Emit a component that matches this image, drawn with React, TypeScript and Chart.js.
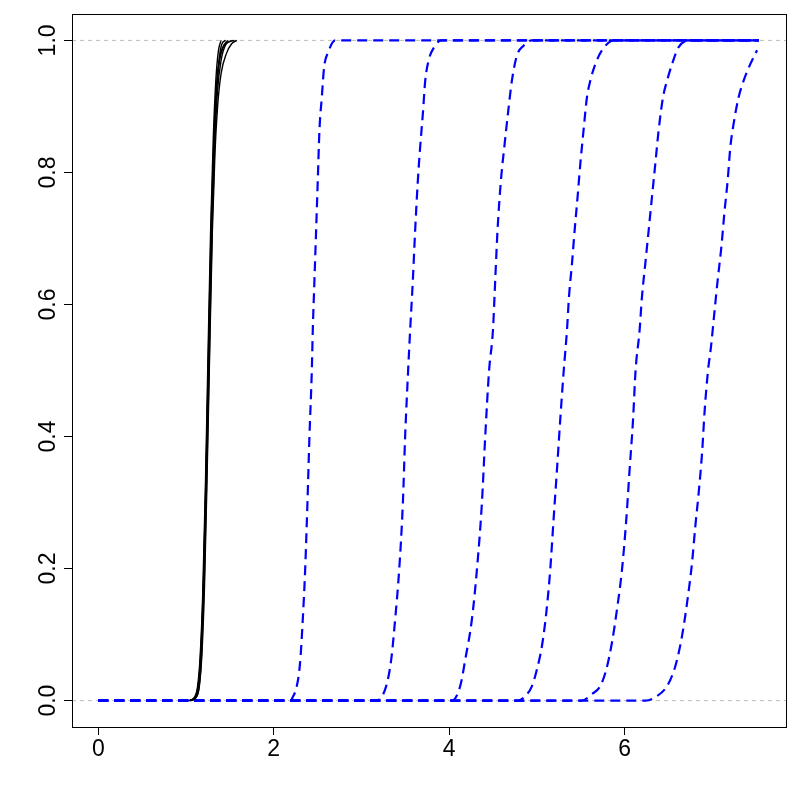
import React, { useEffect, useRef } from "react";
import { Chart, registerables } from "chart.js";

Chart.register(...registerables);

// Axis configuration
const X_MIN = -0.3;
const X_MAX = 7.84;
const Y_MIN = -0.04;
const Y_MAX = 1.04;
const X_TICKS = [0, 2, 4, 6];
const Y_TICKS = [0, 0.2, 0.4, 0.6, 0.8, 1.0];
const Y_TICK_LABELS = ["0.0", "0.2", "0.4", "0.6", "0.8", "1.0"];
const REF_LEVELS = [0, 1];

// Black solid curves (steep bundle near x≈1.25)
const BLACK_1_X = [1.04, 1.10, 1.14, 1.17, 1.20, 1.23, 1.26, 1.29, 1.32, 1.35, 1.38, 1.41, 1.45];
const BLACK_1_Y = [0, 0.004, 0.02, 0.07, 0.18, 0.35, 0.54, 0.72, 0.85, 0.93, 0.975, 0.995, 1];
const BLACK_2_X = [1.05, 1.11, 1.15, 1.18, 1.21, 1.24, 1.27, 1.30, 1.33, 1.36, 1.40, 1.45, 1.52];
const BLACK_2_Y = [0, 0.004, 0.022, 0.075, 0.19, 0.36, 0.55, 0.73, 0.85, 0.925, 0.97, 0.993, 1];
const BLACK_3_X = [1.03, 1.09, 1.13, 1.16, 1.19, 1.22, 1.25, 1.28, 1.31, 1.34, 1.37, 1.40];
const BLACK_3_Y = [0, 0.004, 0.02, 0.065, 0.16, 0.32, 0.52, 0.71, 0.85, 0.94, 0.985, 1];
const BLACK_4_X = [1.05, 1.11, 1.15, 1.18, 1.21, 1.24, 1.27, 1.30, 1.33, 1.36, 1.40, 1.46, 1.52, 1.58];
const BLACK_4_Y = [0, 0.004, 0.02, 0.068, 0.17, 0.34, 0.53, 0.71, 0.83, 0.90, 0.95, 0.98, 0.995, 1];
const BLACK_5_X = [1.04, 1.10, 1.14, 1.17, 1.20, 1.23, 1.26, 1.29, 1.32, 1.35, 1.39, 1.44, 1.55];
const BLACK_5_Y = [0, 0.005, 0.025, 0.08, 0.19, 0.36, 0.56, 0.74, 0.86, 0.935, 0.975, 0.993, 1];
const BLACK_6_X = [1.04, 1.10, 1.14, 1.17, 1.20, 1.23, 1.26, 1.29, 1.32, 1.35, 1.38, 1.42, 1.48];
const BLACK_6_Y = [0, 0.004, 0.021, 0.072, 0.175, 0.34, 0.53, 0.715, 0.845, 0.925, 0.97, 0.99, 1];

// Blue dashed curves
const BLUE_1_X = [0, 2.20, 2.206, 2.263, 2.30, 2.331, 2.358, 2.384, 2.407, 2.434, 2.445, 2.464, 2.483, 2.502, 2.521, 2.548, 2.574, 2.62, 2.70, 7.53];
const BLUE_1_Y = [0, 0, 0.002, 0.022, 0.057, 0.123, 0.198, 0.299, 0.40, 0.50, 0.561, 0.637, 0.712, 0.788, 0.864, 0.914, 0.959, 0.982, 1, 1];
const BLUE_2_X = [0, 3.17, 3.282, 3.339, 3.384, 3.43, 3.472, 3.498, 3.532, 3.555, 3.586, 3.612, 3.643, 3.669, 3.70, 3.727, 3.764, 3.83, 3.91, 7.53];
const BLUE_2_Y = [0, 0, 0.022, 0.062, 0.123, 0.198, 0.299, 0.40, 0.50, 0.561, 0.637, 0.712, 0.788, 0.838, 0.889, 0.939, 0.969, 0.99, 1, 1];
const BLUE_3_X = [0, 4.03, 4.126, 4.183, 4.259, 4.316, 4.373, 4.411, 4.455, 4.499, 4.525, 4.551, 4.59, 4.628, 4.67, 4.715, 4.772, 4.848, 4.94, 7.53];
const BLUE_3_Y = [0, 0, 0.022, 0.062, 0.123, 0.198, 0.299, 0.40, 0.50, 0.561, 0.637, 0.712, 0.788, 0.838, 0.889, 0.939, 0.977, 0.992, 1, 1];
const BLUE_4_X = [0, 4.79, 4.867, 4.944, 5.0, 5.058, 5.107, 5.152, 5.19, 5.229, 5.266, 5.306, 5.343, 5.366, 5.40, 5.43, 5.464, 5.495, 5.532, 5.571, 5.609, 5.666, 5.742, 5.88, 7.53];
const BLUE_4_Y = [0, 0, 0.007, 0.022, 0.047, 0.083, 0.133, 0.198, 0.274, 0.35, 0.425, 0.50, 0.561, 0.612, 0.662, 0.712, 0.763, 0.813, 0.864, 0.914, 0.939, 0.964, 0.985, 1, 1];
const BLUE_5_X = [0, 5.51, 5.628, 5.723, 5.791, 5.856, 5.913, 5.97, 6.019, 6.057, 6.096, 6.125, 6.171, 6.198, 6.236, 6.274, 6.312, 6.35, 6.388, 6.438, 6.484, 6.541, 6.616, 6.77, 7.53];
const BLUE_5_Y = [0, 0, 0.01, 0.022, 0.047, 0.088, 0.138, 0.198, 0.274, 0.35, 0.425, 0.50, 0.561, 0.612, 0.662, 0.712, 0.763, 0.813, 0.864, 0.914, 0.939, 0.964, 0.99, 1, 1];
const BLUE_6_X = [0, 6.24, 6.37, 6.484, 6.578, 6.655, 6.712, 6.769, 6.806, 6.844, 6.883, 6.913, 6.951, 6.985, 7.023, 7.061, 7.103, 7.137, 7.175, 7.205, 7.243, 7.30, 7.357, 7.433, 7.51];
const BLUE_6_Y = [0, 0, 0.007, 0.022, 0.052, 0.098, 0.148, 0.209, 0.264, 0.314, 0.375, 0.44, 0.50, 0.536, 0.587, 0.637, 0.687, 0.738, 0.788, 0.838, 0.874, 0.914, 0.939, 0.964, 0.985];

const BLACK_CURVES = [
  [BLACK_1_X, BLACK_1_Y],
  [BLACK_2_X, BLACK_2_Y],
  [BLACK_3_X, BLACK_3_Y],
  [BLACK_4_X, BLACK_4_Y],
  [BLACK_5_X, BLACK_5_Y],
  [BLACK_6_X, BLACK_6_Y],
];
const BLUE_CURVES = [
  [BLUE_1_X, BLUE_1_Y],
  [BLUE_2_X, BLUE_2_Y],
  [BLUE_3_X, BLUE_3_Y],
  [BLUE_4_X, BLUE_4_Y],
  [BLUE_5_X, BLUE_5_Y],
  [BLUE_6_X, BLUE_6_Y],
];

const FONT = "'Liberation Sans', Arial, sans-serif";

const zip = (xs: number[], ys: number[]) => xs.map((x, i) => ({ x, y: ys[i] }));

const frameAndLabels = {
  id: "frameAndLabels",
  afterDraw(chart: any) {
    const { ctx, chartArea } = chart;
    const ys = chart.scales.y;
    ctx.save();
    ctx.strokeStyle = "#000";
    ctx.lineWidth = 1;
    ctx.strokeRect(
      Math.round(chartArea.left) + 0.5,
      Math.round(chartArea.top) + 0.5,
      Math.round(chartArea.right - chartArea.left),
      Math.round(chartArea.bottom - chartArea.top)
    );
    ctx.fillStyle = "#000";
    ctx.font = `23px ${FONT}`;
    ctx.textAlign = "center";
    ctx.textBaseline = "alphabetic";
    Y_TICKS.forEach((v, i) => {
      const py = ys.getPixelForValue(v);
      ctx.save();
      ctx.translate(55, py);
      ctx.rotate(-Math.PI / 2);
      ctx.fillText(Y_TICK_LABELS[i], 0, 0);
      ctx.restore();
    });
    ctx.restore();
  },
};

export default function App() {
  const ref = useRef<HTMLCanvasElement | null>(null);
  useEffect(() => {
    if (!ref.current) return;
    const datasets: any[] = [];
    BLACK_CURVES.forEach(([xs, ys]) => {
      datasets.push({
        data: zip(xs, ys),
        borderColor: "#000000",
        borderWidth: 1.4,
        pointRadius: 0,
        showLine: true,
        fill: false,
        cubicInterpolationMode: "monotone",
      });
    });
    BLUE_CURVES.forEach(([xs, ys]) => {
      datasets.push({
        data: zip(xs, ys),
        borderColor: "#0000FF",
        borderWidth: 2.2,
        borderDash: [10, 6],
        pointRadius: 0,
        showLine: true,
        fill: false,
        cubicInterpolationMode: "monotone",
      });
    });
    REF_LEVELS.forEach((lv) => {
      datasets.push({
        data: [
          { x: X_MIN, y: lv },
          { x: X_MAX, y: lv },
        ],
        borderColor: "#BEBEBE",
        borderWidth: 1,
        borderDash: [4, 4],
        pointRadius: 0,
        showLine: true,
        fill: false,
      });
    });

    const chart = new Chart(ref.current, {
      type: "scatter",
      data: { datasets },
      options: {
        animation: false,
        responsive: false,
        devicePixelRatio: 1,
        layout: { padding: { top: 14, right: 14, left: 0, bottom: 0 } },
        plugins: { legend: { display: false }, tooltip: { enabled: false } },
        scales: {
          x: {
            type: "linear",
            min: X_MIN,
            max: X_MAX,
            afterBuildTicks: (s: any) => {
              s.ticks = X_TICKS.map((v) => ({ value: v }));
            },
            afterFit: (s: any) => {
              s.height = 73;
            },
            ticks: {
              color: "#000",
              font: { family: FONT, size: 23 },
              padding: 1,
              maxRotation: 0,
              autoSkip: false,
              callback: (v: any) => String(v),
            },
            grid: {
              display: true,
              drawOnChartArea: false,
              drawTicks: true,
              tickLength: 8,
              color: "#000",
              lineWidth: 1,
            },
            border: { display: true, color: "#000", width: 1 },
          },
          y: {
            type: "linear",
            min: Y_MIN,
            max: Y_MAX,
            afterBuildTicks: (s: any) => {
              s.ticks = Y_TICKS.map((v) => ({ value: v }));
            },
            afterFit: (s: any) => {
              s.width = 72;
            },
            ticks: { display: false },
            grid: {
              display: true,
              drawOnChartArea: false,
              drawTicks: true,
              tickLength: 8,
              color: "#000",
              lineWidth: 1,
            },
            border: { display: true, color: "#000", width: 1 },
          },
        },
      },
      plugins: [frameAndLabels],
    });
    return () => chart.destroy();
  }, []);

  return (
    <div style={{ position: "absolute", left: 0, top: 0, width: 800, height: 800, background: "#fff" }}>
      <canvas ref={ref} width={800} height={800} style={{ display: "block" }} />
    </div>
  );
}
